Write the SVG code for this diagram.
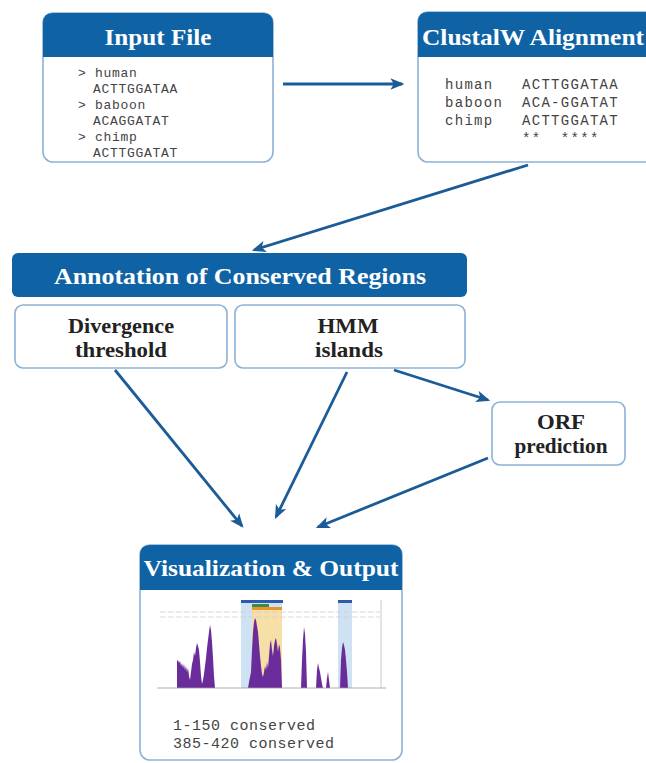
<svg xmlns="http://www.w3.org/2000/svg" width="646" height="763" viewBox="0 0 646 763">
<defs>
<style>
.box{fill:#fff;stroke:#8db2d6;stroke-width:1.6}
.hdr{fill:#0f63a5}
.ttl{font-family:"Liberation Serif","DejaVu Serif",serif;font-weight:bold;font-size:23px;fill:#fff;text-anchor:middle}
.sub{font-family:"Liberation Serif","DejaVu Serif",serif;font-weight:bold;font-size:21px;fill:#222;text-anchor:middle}
.mono{font-family:"Liberation Mono","DejaVu Sans Mono",monospace;fill:#444}
.conn{fill:none;stroke:#1b5b97;stroke-width:2.8;marker-end:url(#ah)}
.purple{fill:#6a2c9a}
</style>
<marker id="ah" viewBox="0 0 12 10" refX="10" refY="5" markerWidth="5" markerHeight="4.5" orient="auto" markerUnits="strokeWidth">
<path d="M0,0 L12,5 L0,10 L3,5 Z" fill="#1b5b97"/>
</marker>
</defs>
<rect width="646" height="763" fill="#fff"/>

<g id="input-file">
<rect class="box" x="43" y="13" width="230" height="149" rx="10"/>
<path class="hdr" d="M43,57 V23 Q43,13 53,13 H263 Q273,13 273,23 V57 Z"/>
<text class="ttl" x="158" y="45" textLength="107" lengthAdjust="spacingAndGlyphs">Input File</text>
<g class="mono" font-size="13" letter-spacing="0.7">
<text x="78" y="77">&gt; human</text>
<text x="93" y="93">ACTTGGATAA</text>
<text x="78" y="109">&gt; baboon</text>
<text x="93" y="125">ACAGGATAT</text>
<text x="78" y="141">&gt; chimp</text>
<text x="93" y="157">ACTTGGATAT</text>
</g>
</g>

<g id="clustalw">
<rect class="box" x="418" y="12" width="250" height="150" rx="10"/>
<path class="hdr" d="M418,57 V22 Q418,12 428,12 H668 V57 Z"/>
<text x="422" y="45" class="ttl" style="text-anchor:start" textLength="222" lengthAdjust="spacingAndGlyphs">ClustalW Alignment</text>
<g class="mono" font-size="14" letter-spacing="1.3">
<text x="445" y="89">human</text><text x="522" y="89">ACTTGGATAA</text>
<text x="445" y="107">baboon</text><text x="522" y="107">ACA-GGATAT</text>
<text x="445" y="125">chimp</text><text x="522" y="125">ACTTGGATAT</text>
<text x="522" y="143" xml:space="preserve">**  ****</text>
</g>
</g>

<g id="annotation">
<rect class="hdr" x="12" y="253" width="455" height="44" rx="6"/>
<text class="ttl" x="240" y="284" textLength="372" lengthAdjust="spacingAndGlyphs">Annotation of Conserved Regions</text>
</g>

<g id="divergence">
<rect class="box" x="15" y="305" width="212" height="63" rx="8"/>
<text class="sub" x="121" y="333" textLength="106" lengthAdjust="spacingAndGlyphs">Divergence</text>
<text class="sub" x="121" y="357" textLength="92" lengthAdjust="spacingAndGlyphs">threshold</text>
</g>

<g id="hmm">
<rect class="box" x="235" y="305" width="230" height="63" rx="8"/>
<text class="sub" x="348" y="333" textLength="61" lengthAdjust="spacingAndGlyphs">HMM</text>
<text class="sub" x="349" y="357" textLength="68" lengthAdjust="spacingAndGlyphs">islands</text>
</g>

<g id="orf">
<rect class="box" x="492" y="402" width="133" height="63" rx="8"/>
<text class="sub" x="561" y="429" textLength="48" lengthAdjust="spacingAndGlyphs">ORF</text>
<text class="sub" x="561" y="453" textLength="93" lengthAdjust="spacingAndGlyphs">prediction</text>
</g>

<g id="visualization">
<rect class="box" x="140" y="545" width="262" height="215" rx="10"/>
<path class="hdr" d="M140,590 V555 Q140,545 150,545 H392 Q402,545 402,555 V590 Z"/>
<text class="ttl" x="271" y="576" textLength="255" lengthAdjust="spacingAndGlyphs">Visualization &amp; Output</text>
<g id="chart">
<rect x="241" y="602" width="41" height="86" fill="#cfe2f3"/>
<rect x="252" y="608" width="30" height="80" fill="#f7dfa8"/>
<rect x="338" y="602" width="14" height="86" fill="#cfe2f3"/>
<rect x="241" y="600" width="42" height="3" fill="#2a5ca8"/>
<rect x="338" y="600" width="14" height="3" fill="#2a5ca8"/>
<rect x="252" y="604" width="17" height="3" fill="#3b8a4a"/>
<rect x="252" y="607" width="30" height="3" fill="#e8962a"/>
<rect x="253" y="685" width="29" height="3" fill="#e8962a"/>
<g stroke="#d0d0d0" stroke-width="0.8" stroke-dasharray="6 2" fill="none">
<line x1="160" y1="612" x2="380" y2="612"/>
<line x1="160" y1="617" x2="380" y2="617"/>
</g>
<path class="purple" d="M177,688 L177,661 L178,660 L179,663 L180,661 L181,666 L182,663 L183,668 L184,664 L185,670 L186,666 L187,672 L188,668 L189,676 L190,680 L191,672 L192,664 L193,660 L194,652 L195,656 L196,648 L197,643 L198,646 L199,650 L200,662 L201,676 L202,684 L203,680 L204,674 L205,666 L206,658 L207,648 L208,640 L209,632 L210,625 L211,630 L212,642 L213,658 L214,676 L215,688 Z"/>
<path class="purple" d="M248,688 L249,682 L251,672 L252,650 L253,632 L254,622 L255,618 L256,620 L257,626 L258,632 L259,644 L260,656 L261,666 L262,674 L263,677 L264,672 L265,666 L266,670 L267,662 L268,668 L269,656 L270,644 L271,640 L272,650 L273,656 L274,646 L275,640 L276,638 L277,644 L278,652 L279,644 L280,648 L281,660 L282,688 Z"/>
<path class="purple" d="M301,688 L302,660 L303,640 L304,627 L305,634 L306,652 L307,688 Z"/>
<path class="purple" d="M316,688 L317,670 L318,663 L319,668 L320,672 L321,678 L322,684 L323,688 Z"/>
<path class="purple" d="M326,688 L327,678 L328,672 L329,680 L330,688 Z"/>
<path class="purple" d="M340,688 L341,660 L342,648 L343,642 L344,645 L345,650 L346,660 L347,672 L348,688 Z"/>
<line x1="157" y1="688" x2="386" y2="688" stroke="#999" stroke-width="0.8"/>
<line x1="381" y1="600" x2="381" y2="688" stroke="#bbb" stroke-width="0.8"/>
</g>
<g class="mono" font-size="15" letter-spacing="0.5">
<text x="173" y="730">1-150 conserved</text>
<text x="173" y="748">385-420 conserved</text>
</g>
</g>

<g id="connectors">
<path class="conn" d="M283,84 L402,84"/>
<path class="conn" d="M528,165 L254,250"/>
<path class="conn" d="M115,370 L242,526"/>
<path class="conn" d="M347,372 L276,517"/>
<path class="conn" d="M394,370 L488,400"/>
<path class="conn" d="M488,458 L318,527"/>
</g>
</svg>
